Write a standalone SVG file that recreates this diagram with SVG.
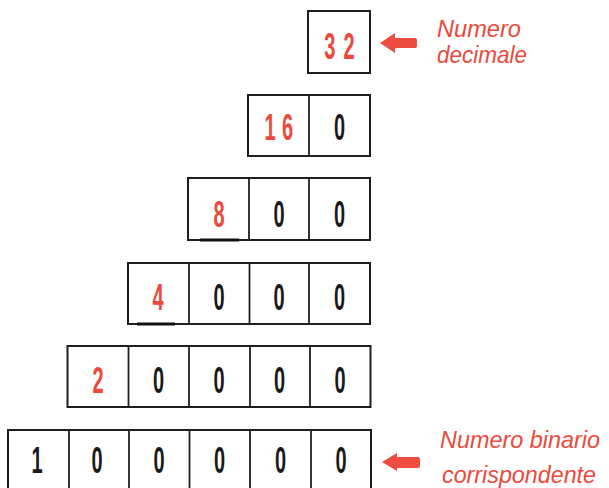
<svg xmlns="http://www.w3.org/2000/svg" width="609" height="488" viewBox="0 0 609 488">
<style>
.box{fill:#fff;stroke:#1e1e1e;stroke-width:2}
.div{stroke:#1e1e1e;stroke-width:1.8}
.d{font-family:"Liberation Sans",Arial,sans-serif;font-weight:bold;font-size:37px;text-anchor:middle;fill:#1a1a1a}
.r{fill:#ea4a3b}
.lab{font-family:"Liberation Sans",Arial,sans-serif;font-style:italic;font-size:24px;fill:#ea4a3b}
.arr{fill:#ee4c3e}
.mark{stroke:#111;stroke-width:3}
</style>
<rect width="609" height="488" fill="#fff"/>
<g id="row32">
<rect class="box" x="308" y="11" width="62" height="62"/>
<text class="d r" transform="translate(343.5,59) scale(0.54,1)" letter-spacing="15">32</text>
</g>
<g id="row16">
<rect class="box" x="248" y="95" width="122" height="61"/>
<line class="div" x1="309" y1="95" x2="309" y2="156"/>
<text class="d r" transform="translate(282,140) scale(0.54,1)" letter-spacing="12">16</text>
<text class="d" transform="translate(339.5,140) scale(0.54,1)">0</text>
</g>
<g id="row8">
<rect class="box" x="188" y="178" width="182" height="62"/>
<line class="div" x1="249" y1="178" x2="249" y2="240"/>
<line class="div" x1="309" y1="178" x2="309" y2="240"/>
<line class="mark" x1="200" y1="240" x2="239" y2="240"/>
<text class="d r" transform="translate(219,227) scale(0.54,1)">8</text>
<text class="d" transform="translate(279,227) scale(0.54,1)">0</text>
<text class="d" transform="translate(339.5,227) scale(0.54,1)">0</text>
</g>
<g id="row4">
<rect class="box" x="128" y="263" width="242" height="61"/>
<line class="div" x1="189" y1="263" x2="189" y2="324"/>
<line class="div" x1="249.5" y1="263" x2="249.5" y2="324"/>
<line class="div" x1="309" y1="263" x2="309" y2="324"/>
<line class="mark" x1="137" y1="324" x2="175" y2="324"/>
<text class="d r" transform="translate(158,310) scale(0.54,1)">4</text>
<text class="d" transform="translate(219,310) scale(0.54,1)">0</text>
<text class="d" transform="translate(279,310) scale(0.54,1)">0</text>
<text class="d" transform="translate(339.5,310) scale(0.54,1)">0</text>
</g>
<g id="row2">
<rect class="box" x="67.5" y="346" width="303" height="61"/>
<line class="div" x1="128.5" y1="346" x2="128.5" y2="407"/>
<line class="div" x1="189" y1="346" x2="189" y2="407"/>
<line class="div" x1="250" y1="346" x2="250" y2="407"/>
<line class="div" x1="310" y1="346" x2="310" y2="407"/>
<text class="d r" transform="translate(98,393) scale(0.54,1)">2</text>
<text class="d" transform="translate(158.5,393) scale(0.54,1)">0</text>
<text class="d" transform="translate(219,393) scale(0.54,1)">0</text>
<text class="d" transform="translate(279.5,393) scale(0.54,1)">0</text>
<text class="d" transform="translate(340,393) scale(0.54,1)">0</text>
</g>
<g id="row1">
<rect class="box" x="8" y="430" width="363" height="62"/>
<line class="div" x1="69" y1="430" x2="69" y2="492"/>
<line class="div" x1="129" y1="430" x2="129" y2="492"/>
<line class="div" x1="189.5" y1="430" x2="189.5" y2="492"/>
<line class="div" x1="250" y1="430" x2="250" y2="492"/>
<line class="div" x1="311" y1="430" x2="311" y2="492"/>
<text class="d" transform="translate(37,473) scale(0.54,1)">1</text>
<text class="d" transform="translate(97,473) scale(0.54,1)">0</text>
<text class="d" transform="translate(159,473) scale(0.54,1)">0</text>
<text class="d" transform="translate(219.5,473) scale(0.54,1)">0</text>
<text class="d" transform="translate(280.5,473) scale(0.54,1)">0</text>
<text class="d" transform="translate(341,473) scale(0.54,1)">0</text>
</g>
<g id="label-decimale">
<text class="lab" x="437" y="37" textLength="84" lengthAdjust="spacingAndGlyphs">Numero</text>
<text class="lab" x="437" y="63" textLength="90" lengthAdjust="spacingAndGlyphs">decimale</text>
</g>
<g id="label-binario">
<text class="lab" x="440" y="448" textLength="160" lengthAdjust="spacingAndGlyphs">Numero binario</text>
<text class="lab" x="442" y="483" textLength="154" lengthAdjust="spacingAndGlyphs">corrispondente</text>
</g>
<g id="connectors">
<path class="arr" d="M380,43 L395,33 L395,38 L415,38 Q417,38 417,40 L417,46 Q417,48 415,48 L395,48 L395,53 Z"/>
<path class="arr" d="M382,462 L397,453 L397,457 L418,457 Q420,457 420,459 L420,466 Q420,468 418,468 L397,468 L397,471 Z"/>
</g>
</svg>
